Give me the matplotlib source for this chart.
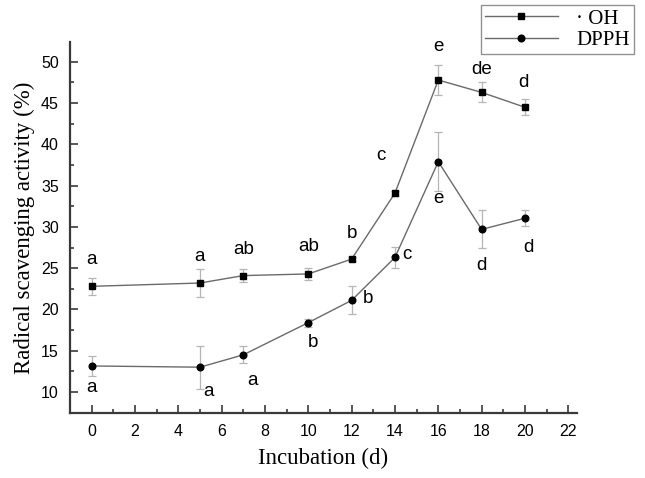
import numpy as np
import matplotlib.pyplot as plt
from matplotlib.ticker import MultipleLocator

# jours d'incubation
days = [0, 5, 7, 10, 12, 14, 16, 18, 20]

# activité anti-radicalaire (%)
oh_mean = [22.8, 23.2, 24.1, 24.3, 26.1, 34.1, 47.8, 46.3, 44.5]
oh_err = [1.0, 1.7, 0.8, 0.7, 0.2, 0.3, 1.85, 1.2, 0.95]
oh_letters = ["a", "a", "ab", "ab", "b", "c", "e", "de", "d"]

dpph_mean = [13.15, 13.0, 14.5, 18.4, 21.1, 26.3, 37.9, 29.7, 31.05]
dpph_err = [1.2, 2.6, 1.05, 0.47, 1.7, 1.3, 3.6, 2.3, 0.95]
dpph_letters = ["a", "a", "a", "b", "b", "c", "e", "d", "d"]

# décalage des lettres (pixels)
oh_off = [(0, 27), (0, 27), (0, 26), (0, 27), (0, 26), (-14, 38), (0, 34), (0, 23), (-2, 25)]
dpph_off = [(0, -22), (9, -24), (9, -26), (5, -20), (16, 2), (12, 3), (0, -37), (0, -36), (3, -29)]

sans = "Liberation Sans"
serif = "Liberation Serif"

fig = plt.figure(figsize=(6.45, 4.78), dpi=100)
ax = fig.add_axes([0.1085, 0.136, 0.786, 0.776])

line_c = "#6a6a6a"
err_c = "#b5b5b5"

ax.errorbar(days, oh_mean, yerr=oh_err, fmt="none", ecolor=err_c, elinewidth=0.9,
            capsize=3, capthick=0.9, zorder=1)
ax.errorbar(days, dpph_mean, yerr=dpph_err, fmt="none", ecolor=err_c, elinewidth=0.9,
            capsize=3, capthick=0.9, zorder=1)
ax.plot(days, oh_mean, color=line_c, lw=1.0, zorder=2)
ax.plot(days, dpph_mean, color=line_c, lw=1.0, zorder=2)
ax.plot(days, oh_mean, ls="none", marker="s", ms=4.5, color="black", zorder=3)
ax.plot(days, dpph_mean, ls="none", marker="o", ms=4.8, color="black", zorder=3)

for x, y, t, o in zip(days, oh_mean, oh_letters, oh_off):
    ax.annotate(t, (x, y), xytext=o, textcoords="offset pixels", ha="center",
                va="center", fontsize=13.5, family=sans)
for x, y, t, o in zip(days, dpph_mean, dpph_letters, dpph_off):
    ax.annotate(t, (x, y), xytext=o, textcoords="offset pixels", ha="center",
                va="center", fontsize=13.5, family=sans)

ax.set_xlim(-1.0, 22.4)
ax.set_ylim(7.45, 52.4)
ax.xaxis.set_major_locator(MultipleLocator(2))
ax.xaxis.set_minor_locator(MultipleLocator(1))
ax.yaxis.set_major_locator(MultipleLocator(5))
ax.yaxis.set_minor_locator(MultipleLocator(2.5))
ax.set_yticks(np.arange(10, 51, 5))

for s in ["top", "right"]:
    ax.spines[s].set_visible(False)
for s in ["left", "bottom"]:
    ax.spines[s].set_linewidth(1.6)
    ax.spines[s].set_color("#3a3a3a")

ax.tick_params(which="both", direction="in", color="#3a3a3a", width=1.2)
ax.tick_params(which="major", length=6, labelsize=11.5, pad=8)
ax.tick_params(which="minor", length=3)
for lab in ax.get_xticklabels() + ax.get_yticklabels():
    lab.set_family(sans)

ax.set_xlabel("Incubation (d)", family=serif, fontsize=16.5, labelpad=6)
ax.set_ylabel("Radical scavenging activity (%)", family=serif, fontsize=16.5, labelpad=4)

# légende
h1, = ax.plot([], [], color=line_c, lw=1.0, marker="s", ms=4.5, mfc="black", mec="black")
h2, = ax.plot([], [], color=line_c, lw=1.0, marker="o", ms=4.8, mfc="black", mec="black")
leg = fig.legend([h1, h2], ["\u00b7 OH", "DPPH"], loc="upper right",
                 bbox_to_anchor=(0.983, 0.99), borderaxespad=0,
                 prop={"family": serif, "size": 15},
                 fancybox=False, edgecolor="#777777", handlelength=3.5,
                 borderpad=0.2, labelspacing=0.1, handletextpad=0.9)
leg.get_frame().set_linewidth(1.0)

fig.savefig("out.png", dpi=100)
